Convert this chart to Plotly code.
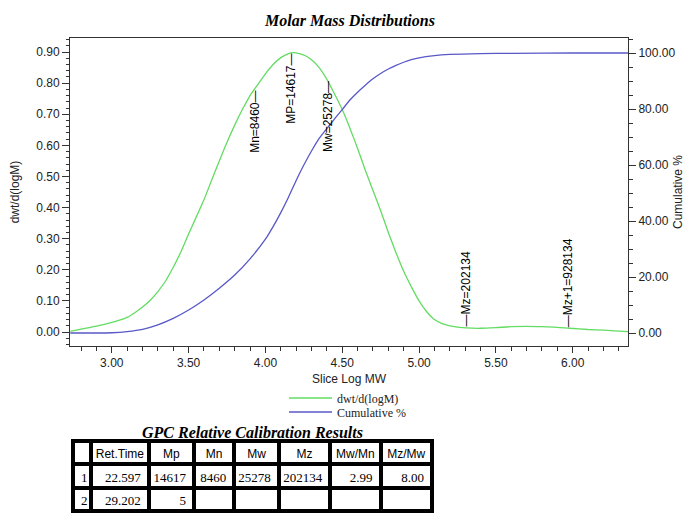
import numpy as np
import plotly.graph_objects as go

# ---- data ----
dist_x = [2.73, 2.80, 2.90, 3.00, 3.05, 3.10, 3.15, 3.20, 3.25, 3.30, 3.35, 3.40, 3.45, 3.50,
          3.55, 3.60, 3.65, 3.70, 3.75, 3.80, 3.85, 3.90, 3.95, 4.00, 4.05, 4.10, 4.15, 4.18,
          4.22, 4.26, 4.30, 4.35, 4.40, 4.45, 4.50, 4.55, 4.60, 4.65, 4.70, 4.75, 4.80, 4.85,
          4.90, 4.95, 5.00, 5.05, 5.10, 5.15, 5.20, 5.25, 5.31, 5.40, 5.50, 5.60, 5.70, 5.80,
          5.90, 5.98, 6.10, 6.20, 6.30, 6.37]
dist_y = [0.002, 0.009, 0.019, 0.031, 0.038, 0.047, 0.062, 0.080, 0.102, 0.130, 0.164, 0.208,
          0.258, 0.315, 0.370, 0.425, 0.488, 0.550, 0.610, 0.665, 0.715, 0.760, 0.795, 0.830,
          0.860, 0.882, 0.895, 0.898, 0.895, 0.888, 0.875, 0.850, 0.812, 0.765, 0.715, 0.655,
          0.590, 0.520, 0.455, 0.390, 0.320, 0.255, 0.195, 0.145, 0.100, 0.065, 0.040, 0.027,
          0.020, 0.016, 0.013, 0.012, 0.014, 0.017, 0.018, 0.017, 0.015, 0.012, 0.008, 0.006,
          0.003, 0.001]

cum_x = [2.73, 2.90, 3.00, 3.10, 3.20, 3.30, 3.40, 3.50, 3.60, 3.70, 3.80, 3.90, 4.00, 4.05,
         4.10, 4.15, 4.20, 4.25, 4.30, 4.35, 4.40, 4.45, 4.50, 4.55, 4.60, 4.65, 4.70, 4.75,
         4.80, 4.85, 4.90, 4.95, 5.00, 5.10, 5.20, 5.40, 5.60, 6.00, 6.37]
cum_y = [0.0, 0.0, 0.1, 0.5, 1.3, 2.9, 5.2, 8.2, 11.8, 16.0, 20.7, 26.5, 33.5, 38.0, 43.0,
         48.5, 54.5, 60.0, 65.0, 69.5, 73.0, 76.5, 79.8, 83.2, 86.0, 88.5, 90.8, 92.7, 94.3,
         95.6, 96.7, 97.6, 98.3, 99.1, 99.5, 99.8, 99.9, 100.0, 100.0]

marker_labels = ["Mn", "MP", "Mw", "Mz", "Mz+1"]
marker_values = [8460, 14617, 25278, 202134, 928134]
marker_above = [False, False, False, True, True]

table_header = ["", "Ret.Time", "Mp", "Mn", "Mw", "Mz", "Mw/Mn", "Mz/Mw"]
table_row1 = ["1", "22.597", "14617", "8460", "25278", "202134", "2.99", "8.00"]
table_row2 = ["2", "29.202", "5", "", "", "", "", ""]

# ---- figure ----
OFF = 8                      # page body margin
W, H = 691 - OFF, 514 - OFF
GREEN = "#62dc62"
BLUE = "#5858c8"
SANS = "Liberation Sans, Arial, sans-serif"
SERIF = "Liberation Serif, Times New Roman, serif"


def px_x(p):
    return (p - OFF) / W


def px_y(p):
    return 1 - (p - OFF) / H


fig = go.Figure()
fig.add_trace(go.Scatter(x=dist_x, y=dist_y, mode="lines", name="dwt/d(logM)",
                         line=dict(color=GREEN, width=1.3, shape="spline", smoothing=0.6),
                         yaxis="y", legend="legend"))
fig.add_trace(go.Scatter(x=cum_x, y=cum_y, mode="lines", name="Cumulative %",
                         line=dict(color=BLUE, width=1.3, shape="spline", smoothing=0.6),
                         yaxis="y2", legend="legend2"))

tickfont = dict(family=SANS, size=12, color="#222")
axis_common = dict(showgrid=False, zeroline=False, showline=True, linecolor="#333",
                   linewidth=1, ticks="outside", tickcolor="#333", tickfont=tickfont,
                   automargin=False)

fig.update_layout(
    width=W, height=H, template="none",
    paper_bgcolor="white", plot_bgcolor="white",
    margin=dict(l=0, r=0, t=0, b=0),
    title=dict(text="Molar Mass Distributions", x=px_x(350), y=px_y(20),
               xanchor="center", yanchor="middle",
               font=dict(family=SERIF, size=16, color="black", weight="bold", style="italic")),
    xaxis=dict(domain=[px_x(70), px_x(628)], range=[2.728, 6.36], dtick=0.5, tick0=0,
               tickformat=".2f", ticklen=6, mirror=True,
               minor=dict(dtick=0.1, tick0=0, ticks="outside", ticklen=4, tickcolor="#333"),
               title=dict(text="Slice Log MW", standoff=5,
                          font=dict(family=SANS, size=12, color="#222")),
               **axis_common),
    yaxis=dict(domain=[px_y(346), px_y(38)], range=[-0.045, 0.945], dtick=0.1, tick0=0,
               tickformat=".2f", ticklen=7,
               minor=dict(dtick=0.02, tick0=0, ticks="outside", ticklen=3, tickcolor="#333"),
               title=dict(text="dwt/d(logM)", standoff=15,
                          font=dict(family=SANS, size=12, color="#222")),
               **axis_common),
    yaxis2=dict(overlaying="y", side="right", anchor="x", range=[-4.64, 105.36], dtick=20,
                tick0=0, tickformat=".2f", ticklen=7,
                minor=dict(dtick=5, tick0=0, ticks="outside", ticklen=4, tickcolor="#333"),
                **axis_common),
    legend=dict(x=px_x(284), y=px_y(398), xanchor="left", yanchor="middle",
                bgcolor="rgba(0,0,0,0)", borderwidth=0, itemwidth=43,
                font=dict(family=SERIF, size=12, color="#222")),
    legend2=dict(x=px_x(284), y=px_y(412), xanchor="left", yanchor="middle",
                 bgcolor="rgba(0,0,0,0)", borderwidth=0, itemwidth=43,
                 font=dict(family=SERIF, size=12, color="#222")),
    showlegend=True,
)

# right axis title
fig.add_annotation(x=px_x(678), y=px_y(192), xref="paper", yref="paper",
                   text="Cumulative %", textangle=-90, showarrow=False,
                   xanchor="center", yanchor="middle",
                   font=dict(family=SANS, size=12, color="#222"))

# marker annotations: vertical labels with a dash that touches the curve
for lab, val, above in zip(marker_labels, marker_values, marker_above):
    lx = float(np.log10(val))
    ly = float(np.interp(lx, dist_x, dist_y))
    txt = f"\u2014{lab}={val}" if above else f"{lab}={val}\u2014"
    fig.add_annotation(x=lx, y=ly, xref="x", yref="y", text=txt,
                       textangle=-90, showarrow=False,
                       xanchor="center", yanchor=("bottom" if above else "top"),
                       borderpad=0, font=dict(family=SANS, size=12, color="black"))

# table title
fig.add_annotation(x=px_x(252), y=px_y(432), xref="paper", yref="paper",
                   text="GPC Relative Calibration Results", showarrow=False,
                   xanchor="center", yanchor="middle",
                   font=dict(family=SERIF, size=16, color="black", weight="bold", style="italic"))

cols = [[r1, r2] for r1, r2 in zip(table_row1, table_row2)]
fig.add_trace(go.Table(
    domain=dict(x=[px_x(73), px_x(432)], y=[px_y(513), px_y(441)]),
    columnwidth=[18, 57, 45, 40, 44, 51, 50, 51],
    header=dict(values=table_header, height=23, align="center",
                fill_color="white", line=dict(color="black", width=4),
                font=dict(family=SANS, size=12, color="black")),
    cells=dict(values=cols, height=23.5,
               align=["left", "right", "right", "right", "right", "right", "right", "right"],
               fill_color="white", line=dict(color="black", width=4),
               font=dict(family=SERIF, size=13, color="black")),
))

fig.write_html("out.html")
